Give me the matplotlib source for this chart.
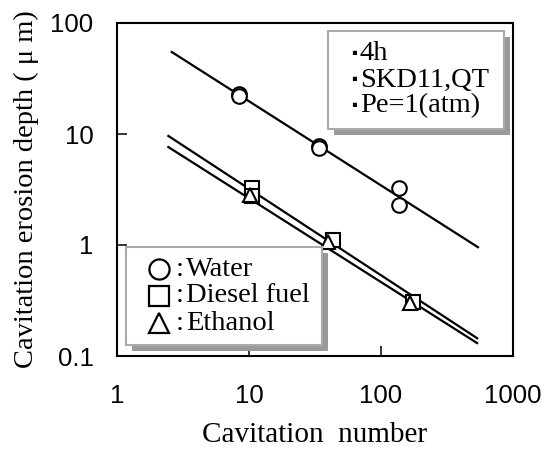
import matplotlib
matplotlib.use("Agg")
import matplotlib.pyplot as plt
import numpy as np
from matplotlib.patches import Rectangle

# ---- data ----
water_x = [8.4, 8.4, 34, 34, 137, 137]
water_y = [22.9, 22.0, 7.8, 7.5, 3.26, 2.29]
diesel_x = [10.5, 10.5, 43, 175]
diesel_y = [3.23, 2.76, 1.11, 0.306]
ethanol_x = [10.2, 40, 166]
ethanol_y = [2.8, 1.06, 0.30]

# power-law fit lines  y = a * x**b, drawn over [x_start, x_end]
water_fit = (113.0, -0.758, 2.6, 543)
diesel_fit = (19.3, -0.779, 2.45, 535)
ethanol_fit = (15.0, -0.755, 2.45, 535)

x_ticks = [1, 10, 100, 1000]
x_tick_labels = ["1", "10", "100", "1000"]
y_ticks = [0.1, 1, 10, 100]
y_tick_labels = ["0.1", "1", "10", "100"]

info_lines = ["4h", "SKD11,QT", "Pe=1(atm)"]
legend_labels = ["Water", "Diesel fuel", "Ethanol"]
legend_markers = ["o", "s", "^"]

serif = ["Liberation Serif", "DejaVu Serif"]
sans = ["Liberation Sans", "DejaVu Sans"]

fig = plt.figure(figsize=(5.44, 4.50), dpi=100)
ax = fig.add_axes([117/544, 1-356/450, 396/544, 333/450])
ax.set_xscale("log")
ax.set_yscale("log")
ax.set_xlim(1, 1000)
ax.set_ylim(0.1, 100)

for a, b, x0, x1 in (water_fit, diesel_fit, ethanol_fit):
    xs = np.logspace(np.log10(x0), np.log10(x1), 50)
    ax.plot(xs, a * xs**b, color="black", lw=1.6, zorder=2)

mk = dict(mfc="white", mec="black", mew=1.5, ls="none", zorder=3)
ax.plot(water_x, water_y, marker="o", ms=10.5, **mk)
ax.plot(diesel_x, diesel_y, marker="s", ms=9.5, **mk)
ax.plot(ethanol_x, ethanol_y, marker="^", ms=10, **mk)

ax.set_xticks(x_ticks)
ax.set_xticklabels(x_tick_labels, family=sans, fontsize=18.5)
ax.set_yticks(y_ticks)
ax.set_yticklabels(y_tick_labels, family=sans, fontsize=18.5)
ax.minorticks_off()
ax.tick_params(direction="in", length=7, width=1.1)
ax.tick_params(axis="y", pad=17)
ax.tick_params(axis="x", pad=20)
for s in ax.spines.values():
    s.set_linewidth(1.5)

ax.set_xlabel("Cavitation  number", family=serif, fontsize=21, labelpad=10)
ax.set_ylabel("Cavitation erosion depth ( \u03bc m)", family=serif, fontsize=20.5, labelpad=8)

def shadow_box(x0, y0, x1, y1):
    dx, dy = 6/396, 6/333
    ax.add_patch(Rectangle((x0+dx, y0-dy), x1-x0, y1-y0, transform=ax.transAxes,
                           facecolor="#999999", edgecolor="none", zorder=4, clip_on=False))
    ax.add_patch(Rectangle((x0, y0), x1-x0, y1-y0, transform=ax.transAxes,
                           facecolor="white", edgecolor="#aaaaaa", lw=1.5, zorder=5, clip_on=False))

# info box (top-right)
shadow_box(0.533, 0.682, 0.977, 0.976)
for i, t in enumerate(info_lines):
    yy = (356 - (54 + 26*i)) / 333
    ax.text((351-117)/396, yy, "\u25aa", transform=ax.transAxes, family=serif,
            fontsize=12, va="center", ha="left", zorder=6)
    ax.text((360-117)/396, yy, t, transform=ax.transAxes, family=serif,
            fontsize=20.5, va="center", ha="left", zorder=6)

# marker legend (bottom-left)
shadow_box(0.023, 0.033, 0.518, 0.327)
for i, (lab, m) in enumerate(zip(legend_labels, legend_markers)):
    yy = (356 - (269 + 27*i)) / 333
    ax.plot([(159-117)/396], [yy], marker=m, ms=14.5, mfc="white", mec="black", mew=1.6,
            transform=ax.transAxes, clip_on=False, zorder=6)
    ax.text((176-117)/396, yy, ":", transform=ax.transAxes, family=serif,
            fontsize=20.5, va="center", ha="left", zorder=6)
    ax.text((186-117)/396, yy, lab, transform=ax.transAxes, family=serif,
            fontsize=20.5, va="center", ha="left", zorder=6)

fig.savefig("out.png", dpi=100)
